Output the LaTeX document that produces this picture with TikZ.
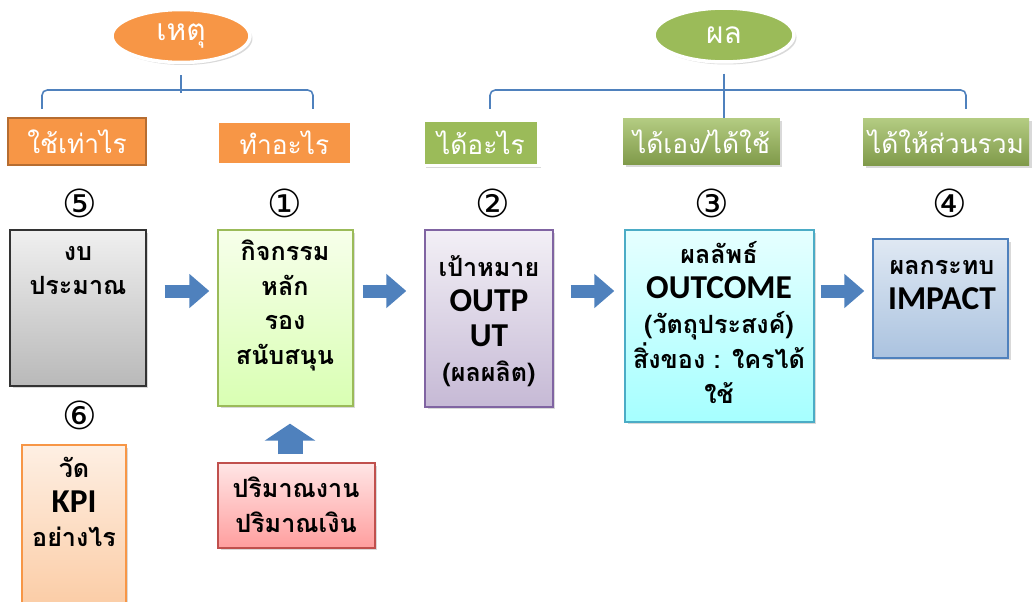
\documentclass[tikz,border=0pt]{standalone}
\usepackage{fontspec}
\newfontfamily\thaifont[Script=Thai]{Loma}
\newfontfamily\latinfont{Carlito}
\newfontfamily\symbolfont{DejaVu Sans}
\usepackage{tikz}
\usetikzlibrary{arrows.meta,shapes.geometric,shadows}
\definecolor{planorange}{HTML}{F79646}
\definecolor{planorangedark}{HTML}{B66D31}
\definecolor{plangreen}{HTML}{9BBB59}
\definecolor{planblue}{HTML}{4F81BD}
\definecolor{planpurple}{HTML}{8064A2}
\definecolor{planaqua}{HTML}{4BACC6}
\definecolor{planred}{HTML}{C0504D}
\newcommand{\eng}[1]{{\latinfont\fontsize{19}{20}\selectfont #1}}

\tikzset{
  softshadow/.style={drop shadow={opacity=0.3, shadow xshift=0.05cm, shadow yshift=-0.05cm}},
  topic/.style={ellipse, inner sep=0pt, draw=white, line width=2pt, softshadow,
    text=white, font=\thaifont\fontsize{17}{20}\selectfont},
  headbox/.style={rectangle, inner sep=0pt, text=white,
    font=\thaifont\fontsize{15}{18}\selectfont},
  stepno/.style={inner sep=0pt, font=\symbolfont\fontsize{22}{22}\selectfont},
  planbox/.style={rectangle, inner sep=0pt, line width=0.8pt, softshadow},
  boxtext/.style={inner sep=0pt, align=center,
    font=\thaifont\bfseries\fontsize{14.3}{19.8}\selectfont},
  bracket/.style={planblue, line width=0.9pt, rounded corners=3pt},
  flow/.style={planblue, line width=0.26cm, -{Triangle[length=0.4cm, width=0.66cm]}},
  upflow/.style={planblue, line width=0.5cm, -{Triangle[length=0.34cm, width=1cm]}}
}

\begin{document}
\begin{tikzpicture}[x=0.02cm, y=-0.02cm]
    \path[use as bounding box] (0,0) rectangle (1033,601);
    \clip (0,0) rectangle (1033,601);
    % Topics
    \node[topic, fill=planorange, minimum width=2.76cm, minimum height=1.06cm] (cause) at (181,36) {เหตุ};
    \node[topic, fill=plangreen, minimum width=2.80cm, minimum height=1.08cm] (effect) at (724,35) {ผล};
    % Heading boxes
    \node[headbox, fill=planorange, draw=planorangedark, line width=1.5pt, minimum width=2.76cm, minimum height=0.94cm] (howmuch) at (77,141.5) {ใช้เท่าไร};
    \node[headbox, fill=planorange, draw=white, line width=2pt, softshadow, minimum width=2.70cm, minimum height=0.88cm] (what) at (284.5,143) {ทำอะไร};
    \node[headbox, fill=plangreen, draw=white, line width=2pt, softshadow, minimum width=2.32cm, minimum height=0.90cm] (gain) at (481,143) {ได้อะไร};
    \node[headbox, top color=plangreen!75!white, bottom color=plangreen!82!black, softshadow, minimum width=3.14cm, minimum height=0.94cm] (selfuse) at (701.5,141.5) {ได้เอง/ได้ใช้};
    \node[headbox, top color=plangreen!75!white, bottom color=plangreen!82!black, softshadow, minimum width=3.32cm, minimum height=0.96cm] (public) at (946,142) {ได้ให้ส่วนรวม};
    % Brackets
    \coordinate (bl1) at (42,109);
    \coordinate (bl2) at (313,109);
    \coordinate (br1) at (490,109);
    \coordinate (br2) at (966,109);
    \draw[bracket] (bl1) -- ++(0,-19) -| (bl2);
    \draw[bracket, shorten <=0.22cm] (cause.south) -- ++(0,29);
    \draw[bracket] (br1) -- ++(0,-19) -| (br2);
    \draw[bracket, shorten <=0.2cm] (effect.south) -- (effect.south |- selfuse.north);
    % Step numbers
    \node[stepno] (n5) at (80,203) {⑤};
    \node[stepno] (n1) at (285,203) {①};
    \node[stepno] (n2) at (493,203) {②};
    \node[stepno] (n3) at (712,203) {③};
    \node[stepno] (n4) at (950,203) {④};
    \node[stepno] (n6) at (80,415) {⑥};
    % Main boxes
    \node[planbox, top color=gray!12, bottom color=gray!55, draw=black!80, minimum width=2.72cm, minimum height=3.12cm] (budget) at (78,308) {};
    \node[planbox, top color=green!40!yellow!8, bottom color=green!50!yellow!30, draw=plangreen, minimum width=2.70cm, minimum height=3.52cm] (activity) at (285.5,318) {};
    \node[planbox, top color=planpurple!10, bottom color=planpurple!45, draw=planpurple, minimum width=2.56cm, minimum height=3.54cm] (output) at (489,318.5) {};
    \node[planbox, top color=cyan!10, bottom color=cyan!35, draw=planaqua, minimum width=3.78cm, minimum height=3.84cm] (outcome) at (719.5,326) {};
    \node[planbox, top color=planblue!18, bottom color=planblue!48, draw=planblue, minimum width=2.70cm, minimum height=2.38cm] (impact) at (940.5,298.5) {};
    \node[planbox, top color=red!10, bottom color=red!38, draw=planred, minimum width=3.14cm, minimum height=1.70cm] (amount) at (296.5,505.5) {};
    \node[planbox, top color=planorange!15, bottom color=planorange!50, draw=planorange, minimum width=2.08cm, minimum height=3.40cm] (kpi) at (74,530) {};
    % Box texts
    \node[boxtext] (budgetT) at (78,270.5) {งบ\\ประมาณ};
    \node[boxtext] (activityT) at (285,305.5) {กิจกรรม\\หลัก\\รอง\\สนับสนุน};
    \node[boxtext] (outputT) at (489,321) {เป้าหมาย\\\eng{OUTP}\\\eng{UT}\\(ผลผลิต)};
    \node[boxtext] (outcomeT) at (719,322.5) {ผลลัพธ์\\\eng{OUTCOME}\\(วัตถุประสงค์)\\สิ่งของ : ใครได้\\ใช้};
    \node[boxtext] (impactT) at (942,285) {ผลกระทบ\\\eng{IMPACT}};
    \node[boxtext] (amountT) at (296,505) {ปริมาณงาน\\ปริมาณเงิน};
    \node[boxtext] (kpiT) at (74,502) {วัด\\\eng{KPI}\\อย่างไร};
    % Arrows
    \coordinate (fy) at (0,291);
    \coordinate (ux) at (290,0);
    \draw[flow, shorten <=0.36cm, shorten >=0.16cm] (budget.east |- fy) -- (activity.west |- fy);
    \draw[flow, shorten <=0.18cm, shorten >=0.36cm] (activity.east |- fy) -- (output.west |- fy);
    \draw[flow, shorten <=0.34cm, shorten >=0.2cm] (output.east |- fy) -- (outcome.west |- fy);
    \draw[flow, shorten <=0.12cm, shorten >=0.16cm] (outcome.east |- fy) -- (impact.west |- fy);
    \draw[upflow, shorten <=0.16cm, shorten >=0.34cm] (amount.north -| ux) -- (activity.south -| ux);
  \end{tikzpicture}
\end{document}
